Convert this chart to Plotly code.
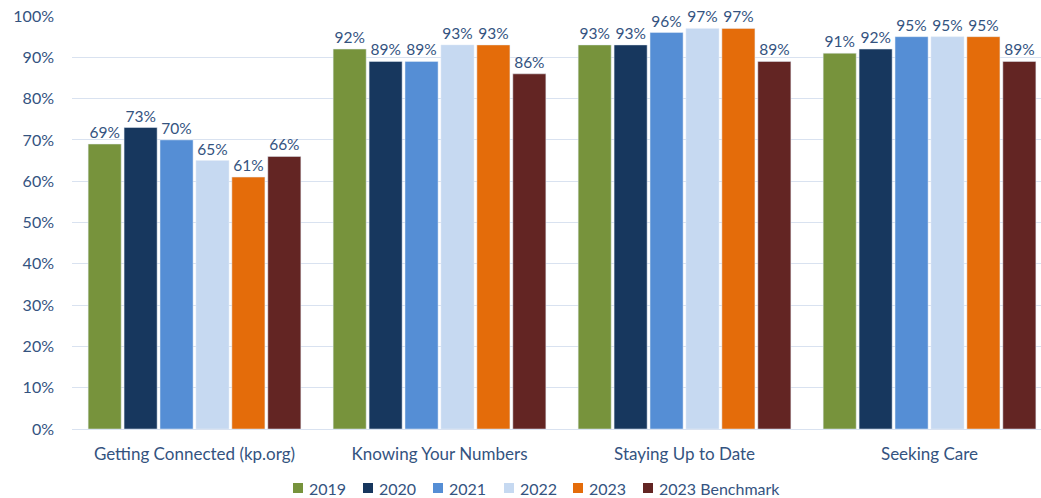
import plotly.graph_objects as go

categories = ["Getting Connected (kp.org)", "Knowing Your Numbers", "Staying Up to Date", "Seeking Care"]
series_names = ["2019", "2020", "2021", "2022", "2023", "2023 Benchmark"]
values = {
    "2019": [69, 92, 93, 91],
    "2020": [73, 89, 93, 92],
    "2021": [70, 89, 96, 95],
    "2022": [65, 93, 97, 95],
    "2023": [61, 93, 97, 95],
    "2023 Benchmark": [66, 86, 89, 89],
}
colors = ["#77933C", "#17375E", "#558ED5", "#C6D9F1", "#E46C0A", "#632523"]
yticks = [0, 10, 20, 30, 40, 50, 60, 70, 80, 90, 100]

font_family = "Lato, Open Sans, sans-serif"
text_color = "#34537F"

# layout constants (pixels)
W, H = 1041, 498
ML, MR, MT, MB = 72, 0, 16, 69
PW, PH = W - ML - MR, H - MT - MB
legend_px = [293, 363, 433, 504, 573, 643]   # left edge of each legend square
legend_y_px = 488
sq = 10

fig = go.Figure()
for name, col in zip(series_names, colors):
    v = [x / 100 for x in values[name]]
    fig.add_trace(go.Bar(
        name=name, x=categories, y=v, marker_color=col,
        text=[f"{x}%" for x in values[name]], textposition="outside",
        textfont=dict(size=15.5, color=text_color, family=font_family),
        cliponaxis=False, showlegend=False,
    ))

def px_to_paper_x(px):
    return (px - ML) / PW

def px_to_paper_y(py):
    return (H - MB - py) / PH

shapes, annots = [], []
for name, col, lx in zip(series_names, colors, legend_px):
    shapes.append(dict(type="rect", xref="paper", yref="paper",
                       x0=px_to_paper_x(lx), x1=px_to_paper_x(lx + sq),
                       y0=px_to_paper_y(legend_y_px + sq / 2), y1=px_to_paper_y(legend_y_px - sq / 2),
                       fillcolor=col, line=dict(width=0)))
    annots.append(dict(xref="paper", yref="paper", x=px_to_paper_x(lx + sq + 4), y=px_to_paper_y(legend_y_px),
                       xanchor="left", yanchor="middle", text=name, showarrow=False,
                       font=dict(size=16, color=text_color, family=font_family)))

fig.update_layout(
    width=W, height=H,
    margin=dict(l=ML, r=MR, t=MT, b=MB, autoexpand=False),
    plot_bgcolor="white", paper_bgcolor="white",
    barmode="group", bargap=0.12, bargroupgap=0.08,
    font=dict(family=font_family, size=16, color=text_color),
    showlegend=False, shapes=shapes, annotations=annots,
)
fig.update_xaxes(range=[-0.5, 3.455], showline=True, linecolor="#D9E2F0", linewidth=1,
                 tickfont=dict(size=17, color=text_color), ticks="", ticklabelstandoff=10)
fig.update_yaxes(range=[0, 1], tickvals=[t / 100 for t in yticks], ticktext=[f"{t}%" for t in yticks],
                 showgrid=True, gridcolor="#D9E2F0", gridwidth=1, zeroline=False,
                 tickfont=dict(size=16, color=text_color), ticklabelstandoff=17)

fig.write_html("out.html")
